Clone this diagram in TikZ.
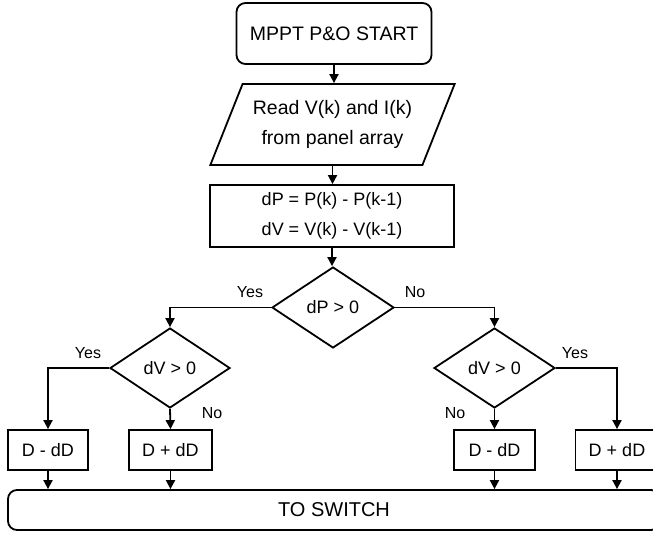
\documentclass[tikz,border=0pt]{standalone}
\usepackage{fontspec}
\setmainfont{Liberation Sans}
\usetikzlibrary{shapes.geometric,arrows.meta}

\tikzset{
  base/.style={draw, line width=1.8pt, inner sep=0pt, align=center, font=\fontsize{18}{30}\selectfont},
  startbox/.style={base, rounded corners=9pt, font=\fontsize{19.5}{24}\selectfont},
  iobox/.style={base, trapezium, trapezium left angle=59.35, trapezium right angle=120.65,
    trapezium stretches=true, font=\fontsize{19.5}{30}\selectfont},
  procbox/.style={base},
  decision/.style={base, diamond},
  endbox/.style={base, rounded corners=9pt, font=\fontsize{20}{24}\selectfont},
  lbl/.style={inner sep=0pt, font=\fontsize{16}{18}\selectfont},
  arr/.style={line width=1.8pt, -{Triangle[length=9pt,width=9pt]}}
}

\begin{document}
\begin{tikzpicture}[x=1pt,y=-1pt]
\useasboundingbox (0,0) rectangle (653,535);

% main column
\node[startbox, minimum width=195pt, minimum height=61pt] (start) at (334,33.5) {MPPT P\&O START};
\node[iobox, minimum width=245pt, minimum height=81pt] (read) at (332.5,124.5) {Read V(k) and I(k)\\from panel array};
\node[procbox, minimum width=244pt, minimum height=62pt] (diff) at (332,216) {dP = P(k) - P(k-1)\\dV = V(k) - V(k-1)};
\node[decision, minimum width=122pt, minimum height=81pt] (dp) at (333,307.5) {dP > 0};

% branch decisions
\node[decision, minimum width=120pt, minimum height=80pt] (dvl) at (170,368) {dV > 0};
\node[decision, minimum width=121pt, minimum height=80pt] (dvr) at (494.5,368) {dV > 0};

% duty-cycle updates
\node[procbox, minimum width=80pt, minimum height=40pt] (b1) at (48,450) {D - dD};
\node[procbox, minimum width=83pt, minimum height=40pt] (b2) at (170.5,450) {D + dD};
\node[procbox, minimum width=81pt, minimum height=40pt] (b3) at (494.5,450) {D - dD};
\node[procbox, minimum width=83pt, minimum height=40pt] (b4) at (617,450) {D + dD};

% output
\node[endbox, minimum width=652pt, minimum height=40pt] (sw) at (334,510) {TO SWITCH};

% connectors
\draw[arr] (start.south) -- (start.south |- read.north);
\draw[arr] (read.south) -- (read.south |- diff.north);
\draw[arr] (diff.south) -- (diff.south |- dp.north);
\draw[arr] (dp.west) -| (dvl.north);
\draw[arr] (dp.east) -| (dvr.north);
\draw[arr] (dvl.west) -| (b1.north);
\draw[arr] (dvl.south) -- (b2.north);
\draw[arr] (dvr.south) -- (b3.north);
\draw[arr] (dvr.east) -| (b4.north);
\foreach \b in {b1,b2,b3,b4}
  \draw[arr] (\b.south) -- (\b.south |- sw.north);

% branch labels
\node[lbl] (y0) at (250,292) {Yes};
\node[lbl] (n0) at (415,292) {No};
\node[lbl] (y1) at (88,353) {Yes};
\node[lbl] (n1) at (212,413) {No};
\node[lbl] (n2) at (455,413) {No};
\node[lbl] (y2) at (575,353) {Yes};
\end{tikzpicture}
\end{document}
